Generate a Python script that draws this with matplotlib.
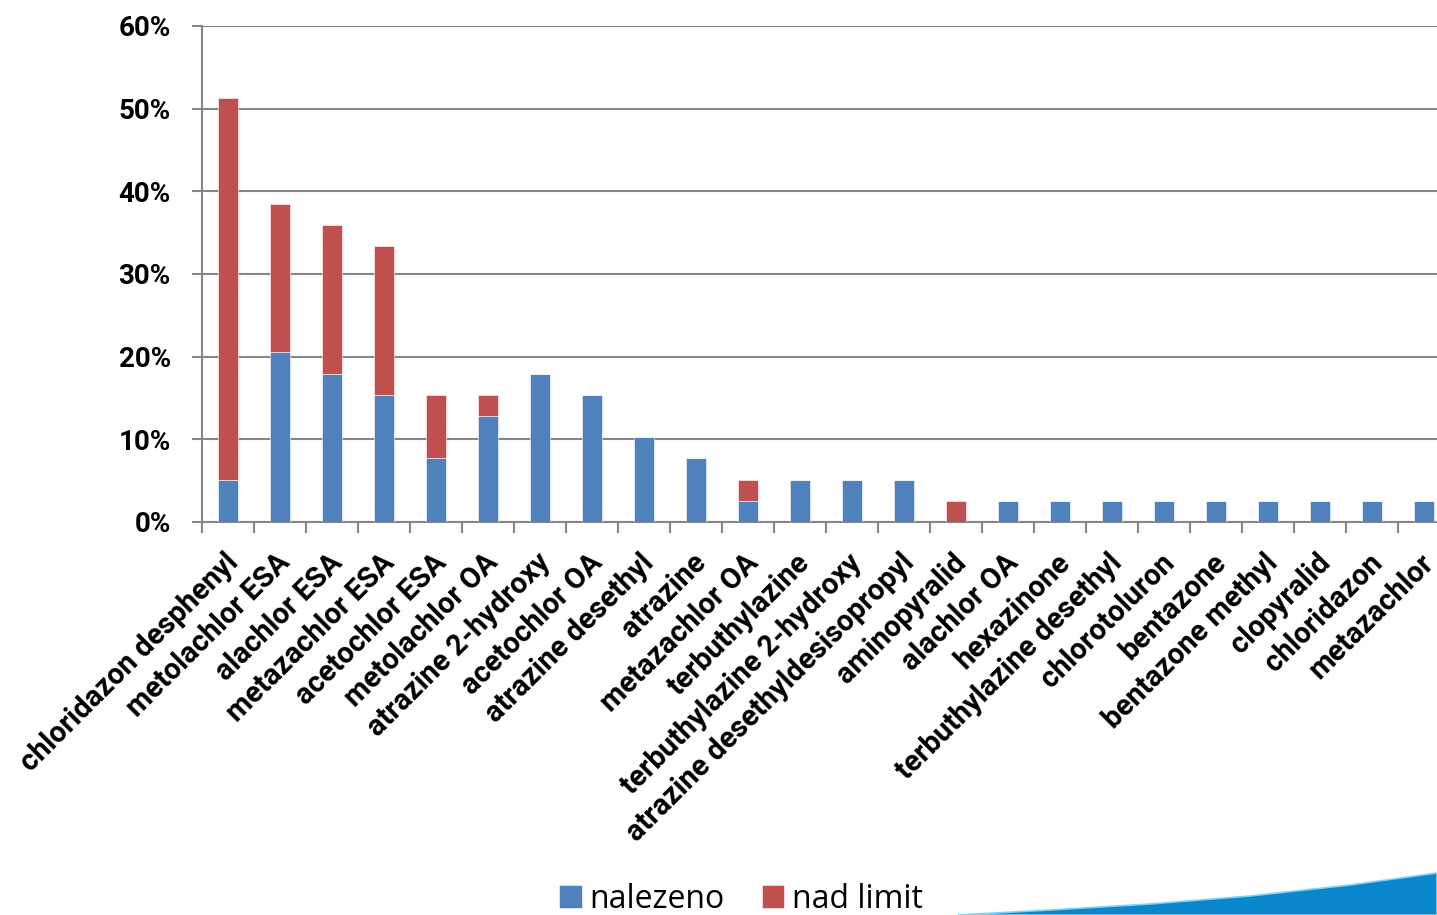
import matplotlib
matplotlib.use("Agg")
import matplotlib.pyplot as plt
import numpy as np
from matplotlib.patches import Polygon
from matplotlib.ticker import FuncFormatter, FixedLocator

plt.rcParams['font.family'] = ['Roboto', 'DejaVu Sans']

categories = [
    "chloridazon desphenyl", "metolachlor ESA", "alachlor ESA", "metazachlor ESA",
    "acetochlor ESA", "metolachlor OA", "atrazine 2-hydroxy", "acetochlor OA",
    "atrazine desethyl", "atrazine", "metazachlor OA", "terbuthylazine",
    "terbuthylazine 2-hydroxy", "atrazine desethyldesisopropyl", "aminopyralid",
    "alachlor OA", "hexazinone", "terbuthylazine desethyl", "chlorotoluron",
    "bentazone", "bentazone methyl", "clopyralid", "chloridazon", "metazachlor",
]
# share of samples in percent (39 samples in total)
nalezeno = [5.13, 20.51, 17.95, 15.38, 7.69, 12.82, 17.95, 15.38, 10.26, 7.69,
            2.56, 5.13, 5.13, 5.13, 0.0, 2.56, 2.56, 2.56, 2.56, 2.56, 2.56,
            2.56, 2.56, 2.56]
nad_limit = [46.15, 17.95, 17.95, 17.95, 7.69, 2.56, 0, 0, 0, 0,
             2.56, 0, 0, 0, 2.56, 0, 0, 0, 0, 0, 0, 0, 0, 0]
series_names = ["nalezeno", "nad limit"]
yticks = [0, 10, 20, 30, 40, 50, 60]

BLUE = "#4F81BD"
RED = "#C0504D"
GRID = "#868686"

W, H = 1437, 915
fig = plt.figure(figsize=(W / 100, H / 100), dpi=100)
ax = fig.add_axes([202 / W, (H - 522) / H, 1248 / W, 496 / H])

x = np.arange(len(categories))
b1 = ax.bar(x, nalezeno, width=0.4, color=BLUE, edgecolor="white", linewidth=0.4,
            label=series_names[0], zorder=3)
b2 = ax.bar(x, nad_limit, width=0.4, bottom=nalezeno, color=RED, edgecolor="white",
            linewidth=0.4, label=series_names[1], zorder=3)

ax.set_xlim(-0.5, len(categories) - 0.5)
ax.set_ylim(0, 60)
ax.set_yticks(yticks)
ax.yaxis.set_major_formatter(FuncFormatter(lambda v, p: f"{v:.0f}%"))
ax.grid(axis="y", color=GRID, linewidth=1.5, zorder=0)
ax.set_axisbelow(True)

for s in ("top", "right"):
    ax.spines[s].set_visible(False)
for s in ("left", "bottom"):
    ax.spines[s].set_color(GRID)
    ax.spines[s].set_linewidth(1.5)

ax.tick_params(axis="y", length=7.5, width=1.5, color=GRID, pad=15,
               labelsize=20)
for t in ax.get_yticklabels():
    t.set_fontweight("bold")

# tick marks between categories, labels placed separately
ax.xaxis.set_major_locator(FixedLocator(np.arange(len(categories) + 1) - 0.5))
ax.set_xticklabels([])
ax.tick_params(axis="x", length=8, width=1.5, color=GRID)

for i, name in enumerate(categories):
    ax.annotate(name, xy=(i, 0), xycoords="data",
                xytext=(-3, -19), textcoords="offset points",
                rotation=45, rotation_mode="anchor", ha="right", va="top",
                fontsize=21, fontweight="bold")

# legend at the bottom
fig.legend(handles=[b1, b2], labels=series_names, loc="center",
           bbox_to_anchor=(741 / W, 1 - 899 / H), ncol=2, frameon=False,
           prop={"family": "Open Sans", "size": 23},
           handlelength=0.7, handleheight=0.7, handletextpad=0.25,
           columnspacing=1.15)

# blue swoosh in the lower right corner
top_edge = [(958, 915), (1050, 910), (1150, 904), (1250, 896), (1350, 885), (1437, 873)]
pts = [(px / W, 1 - py / H) for px, py in top_edge] + [(1, 0), (958 / W, 0)]
fig.patches.append(Polygon(pts, closed=True, transform=fig.transFigure,
                           facecolor="#0A87CC", edgecolor="#7FD3F2", linewidth=1.2))

fig.savefig("out.png", dpi=100)
